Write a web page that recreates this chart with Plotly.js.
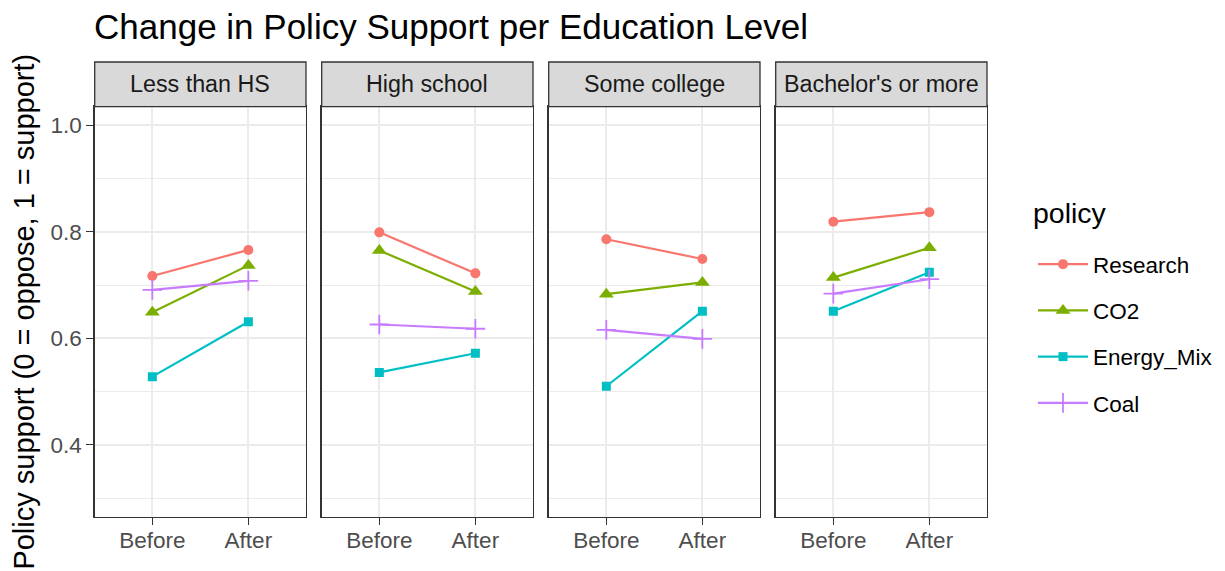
<!DOCTYPE html>
<html>
<head>
<meta charset="utf-8">
<script src="https://cdn.plot.ly/plotly-3.0.1.min.js"></script>
<style>html,body{margin:0;padding:0;background:#fff;}#chart{width:1225px;height:571px;}</style>
</head>
<body>
<div id="chart"></div>
<script>
// ---- data ----
const educationLevels = ["Less than HS", "High school", "Some college", "Bachelor's or more"];
const timeLabels = ["Before", "After"];
const policies = ["Research", "CO2", "Energy_Mix", "Coal"];

const researchBefore = [0.717, 0.799, 0.786, 0.819];
const researchAfter  = [0.766, 0.722, 0.749, 0.837];
const co2Before      = [0.649, 0.765, 0.683, 0.714];
const co2After       = [0.737, 0.688, 0.705, 0.770];
const energyBefore   = [0.528, 0.536, 0.510, 0.651];
const energyAfter    = [0.631, 0.572, 0.651, 0.724];
const coalBefore     = [0.691, 0.626, 0.616, 0.684];
const coalAfter      = [0.708, 0.618, 0.599, 0.711];

// ---- styles ----
const W = 1225, H = 571;
const FONT = "Liberation Sans, Arial, Helvetica, sans-serif";
const policyValues = {
  Research: [researchBefore, researchAfter],
  CO2: [co2Before, co2After],
  Energy_Mix: [energyBefore, energyAfter],
  Coal: [coalBefore, coalAfter]
};
const policyStyle = {
  Research:   {color: "#F8766D", symbol: "circle", size: 10},
  CO2:        {color: "#7CAE00", symbol: "triangle-up", size: 13},
  Energy_Mix: {color: "#00BFC4", symbol: "square", size: 9},
  Coal:       {color: "#C77CFF", symbol: "cross-thin", size: 14}
};

const panelLeft = [94.7, 321.7, 548.7, 775.7];
const panelWidth = 211.3;
const panelTop = 106.7, panelBottom = 516.7, stripTop = 62;
const px2x = p => p / W;
const px2y = p => 1 - p / H;

const traces = [];
educationLevels.forEach((edu, i) => {
  const ax = i === 0 ? "" : String(i + 1);
  policies.forEach(pol => {
    const st = policyStyle[pol];
    const vals = policyValues[pol];
    traces.push({
      type: "scatter",
      mode: "lines+markers",
      x: timeLabels,
      y: [vals[0][i], vals[1][i]],
      xaxis: "x" + ax,
      yaxis: "y" + ax,
      name: pol,
      legendgroup: pol,
      showlegend: i === 0,
      line: {color: st.color, width: 2.2},
      marker: {
        color: st.color, symbol: st.symbol, size: st.size,
        line: {color: st.color, width: pol === "Coal" ? 1.8 : 0}
      },
      hoverinfo: "x+y+name"
    });
  });
});

const layout = {
  width: W, height: H,
  margin: {l: 0, r: 0, t: 0, b: 0},
  paper_bgcolor: "#ffffff",
  plot_bgcolor: "#ffffff",
  font: {family: FONT, color: "#000000"},
  title: {
    text: "Change in Policy Support per Education Level",
    font: {family: FONT, size: 35, color: "#000000"},
    x: px2x(94), xanchor: "left", xref: "paper",
    y: px2y(27), yanchor: "middle", yref: "paper"
  },
  showlegend: true,
  legend: {
    font: {family: FONT, size: 22.5, color: "#000000"},
    x: px2x(1033), xanchor: "left",
    y: px2y(243), yanchor: "top",
    traceorder: "grouped",
    tracegroupgap: 14,
    itemwidth: 50,
    bgcolor: "rgba(0,0,0,0)",
    borderwidth: 0
  },
  shapes: [],
  annotations: [{
    // legend title
    text: "policy", xref: "paper", yref: "paper",
    x: px2x(1031), y: px2y(213), xanchor: "left", yanchor: "middle",
    showarrow: false, font: {family: FONT, size: 28.5, color: "#000000"}
  }]
};

educationLevels.forEach((edu, i) => {
  const ax = i === 0 ? "" : String(i + 1);
  const l = panelLeft[i], r = panelLeft[i] + panelWidth;
  layout["xaxis" + ax] = {
    type: "category",
    domain: [px2x(l), px2x(r)],
    range: [-0.6, 1.6],
    anchor: "y" + ax,
    showgrid: true, gridcolor: "#EBEBEB", gridwidth: 2,
    zeroline: false,
    showline: true, mirror: true, linecolor: "#333333", linewidth: 1.3,
    ticks: "outside", ticklen: 7, tickwidth: 1.3, tickcolor: "#333333",
    ticklabelstandoff: -4,
    tickfont: {family: FONT, size: 22.5, color: "#4D4D4D"},
    fixedrange: true
  };
  layout["yaxis" + ax] = {
    domain: [px2y(panelBottom), px2y(panelTop)],
    range: [0.265, 1.035],
    anchor: "x" + ax,
    tick0: 0, dtick: 0.2, tickformat: ".1f",
    showticklabels: i === 0,
    ticks: i === 0 ? "outside" : "",
    ticklen: 7, tickwidth: 1.3, tickcolor: "#333333",
    tickfont: {family: FONT, size: 22.5, color: "#4D4D4D"},
    showgrid: true, gridcolor: "#EBEBEB", gridwidth: 2,
    minor: {dtick: 0.1, tick0: 0, showgrid: true, gridcolor: "#EBEBEB", gridwidth: 1, ticks: ""},
    zeroline: false,
    showline: true, mirror: true, linecolor: "#333333", linewidth: 1.3,
    fixedrange: true
  };
  if (i === 0) {
    layout.yaxis.title = {
      text: "Policy support (0 = oppose, 1 = support)",
      font: {family: FONT, size: 29, color: "#000000"},
      standoff: 7
    };
  }
  // facet strip
  layout.shapes.push({
    type: "rect", xref: "paper", yref: "paper",
    x0: px2x(l), x1: px2x(r), y0: px2y(panelTop), y1: px2y(stripTop),
    fillcolor: "#D9D9D9", line: {color: "#333333", width: 1.3}, layer: "above"
  });
  layout.annotations.push({
    text: edu, xref: "paper", yref: "paper",
    x: px2x((l + r) / 2), y: px2y((stripTop + panelTop) / 2),
    xanchor: "center", yanchor: "middle", showarrow: false,
    font: {family: FONT, size: 23.3, color: "#1A1A1A"}
  });
});

Plotly.newPlot("chart", traces, layout, {displayModeBar: false, staticPlot: true});
</script>
</body>
</html>
